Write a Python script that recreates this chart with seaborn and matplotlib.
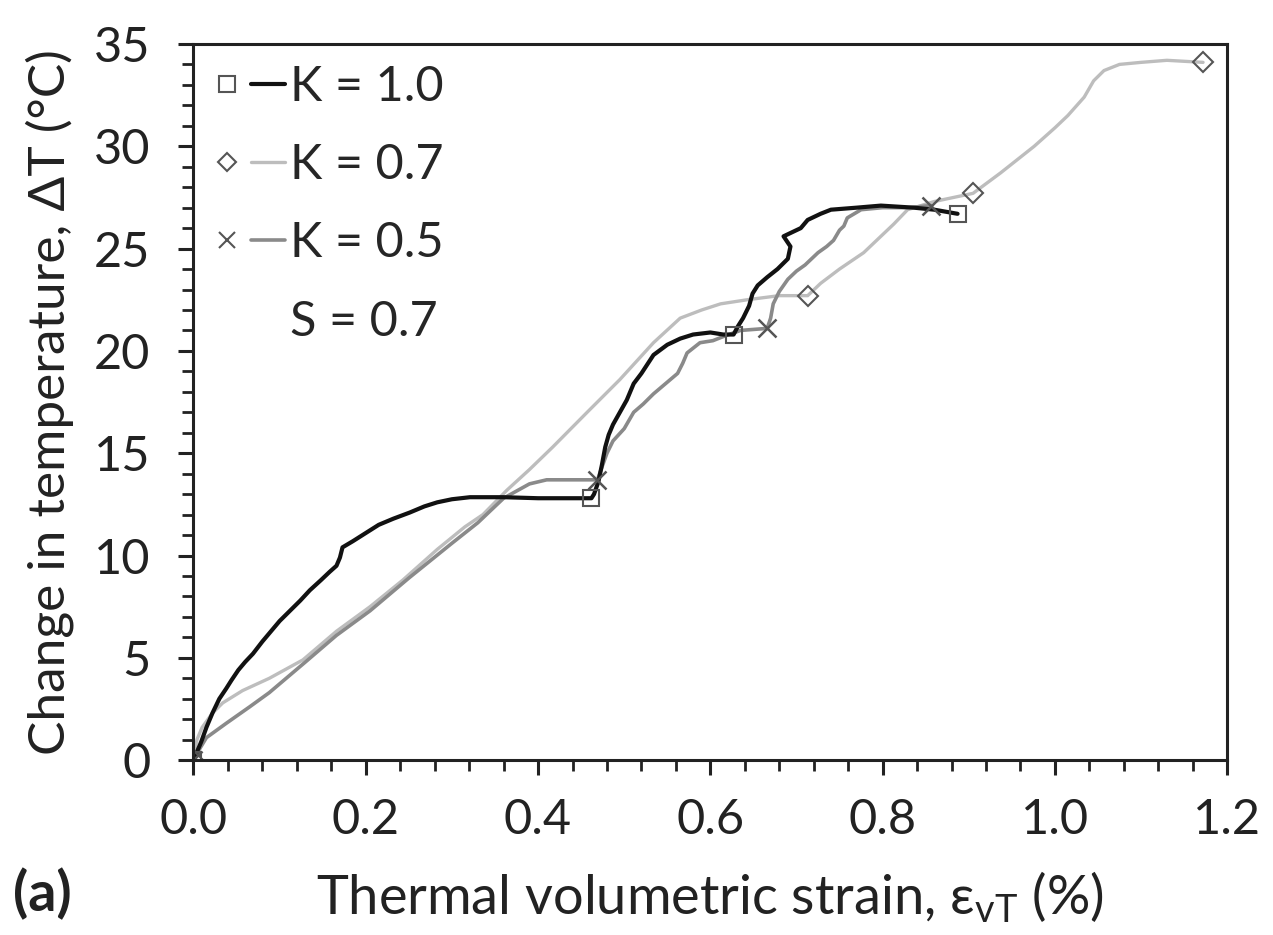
import numpy as np
import pandas as pd
import seaborn as sns
import matplotlib.pyplot as plt
from matplotlib.lines import Line2D
from matplotlib.legend_handler import HandlerTuple
from matplotlib.ticker import MultipleLocator

# K = 1.0 (black)
k10_x = [0, 0.004, 0.009, 0.015, 0.022, 0.03, 0.038, 0.044, 0.052, 0.06,
         0.069, 0.08, 0.09, 0.1, 0.112, 0.124, 0.135, 0.148, 0.158, 0.166,
         0.170, 0.173, 0.185, 0.2, 0.215, 0.232, 0.251, 0.268, 0.283, 0.3,
         0.321, 0.36, 0.4, 0.44, 0.462, 0.465, 0.47, 0.474, 0.478, 0.482,
         0.487, 0.495, 0.503, 0.511, 0.52, 0.534, 0.55, 0.565, 0.58, 0.6,
         0.615, 0.627, 0.632, 0.638, 0.645, 0.649, 0.655, 0.666, 0.678, 0.69,
         0.693, 0.685, 0.695, 0.705, 0.713, 0.728, 0.74, 0.77, 0.798, 0.836,
         0.86, 0.887]
k10_y = [0, 0.4, 0.9, 1.6, 2.3, 3.0, 3.5, 3.9, 4.4, 4.8,
         5.2, 5.8, 6.3, 6.8, 7.3, 7.8, 8.3, 8.8, 9.2, 9.5,
         9.9, 10.4, 10.7, 11.1, 11.5, 11.8, 12.1, 12.4, 12.6, 12.75,
         12.85, 12.85, 12.8, 12.8, 12.8, 13.0, 13.6, 14.4, 15.3, 15.9,
         16.4, 17.0, 17.6, 18.4, 18.9, 19.8, 20.3, 20.6, 20.8, 20.9,
         20.8, 20.8, 21.2, 21.6, 22.2, 22.8, 23.2, 23.6, 24.0, 24.5,
         25.1, 25.6, 25.8, 26.0, 26.4, 26.7, 26.9, 27.0, 27.1, 27.0,
         26.9, 26.7]

# K = 0.7 (light grey)
k07_x = [0, 0.004, 0.01, 0.022, 0.034, 0.057, 0.088, 0.127, 0.166, 0.205,
         0.243, 0.283, 0.315, 0.336, 0.364, 0.39, 0.417, 0.457, 0.495, 0.534,
         0.565, 0.59, 0.612, 0.643, 0.68, 0.713, 0.728, 0.75, 0.778, 0.813,
         0.829, 0.86, 0.905, 0.937, 0.976, 1.0, 1.015, 1.034, 1.045, 1.057,
         1.075, 1.1, 1.13, 1.172]
k07_y = [0, 1.0, 1.6, 2.3, 2.8, 3.4, 4.0, 4.9, 6.3, 7.5,
         8.8, 10.3, 11.4, 12.0, 13.2, 14.2, 15.3, 17.0, 18.6, 20.4,
         21.6, 22.0, 22.3, 22.5, 22.7, 22.7, 23.3, 24.0, 24.8, 26.2,
         26.9, 27.3, 27.7, 28.7, 30.0, 30.9, 31.5, 32.4, 33.2, 33.7,
         34.0, 34.1, 34.2, 34.1]

# K = 0.5 (mid grey)
k05_x = [0, 0.005, 0.015, 0.038, 0.065, 0.088, 0.13, 0.166, 0.205, 0.25,
         0.3, 0.33, 0.36, 0.39, 0.41, 0.44, 0.469, 0.474, 0.48, 0.487,
         0.5, 0.511, 0.522, 0.534, 0.548, 0.562, 0.568, 0.573, 0.588, 0.603,
         0.615, 0.635, 0.666, 0.67, 0.673, 0.68, 0.69, 0.70, 0.71, 0.725,
         0.735, 0.743, 0.75, 0.755, 0.759, 0.775, 0.8, 0.83, 0.856]
k05_y = [0, 0.4, 1.1, 1.8, 2.6, 3.3, 4.8, 6.1, 7.3, 8.9,
         10.6, 11.6, 12.8, 13.5, 13.7, 13.7, 13.7, 14.3, 15.0, 15.6,
         16.2, 17.0, 17.4, 17.9, 18.4, 18.9, 19.4, 19.9, 20.4, 20.5,
         20.7, 21.0, 21.1, 21.6, 22.3, 22.9, 23.5, 23.9, 24.2, 24.8,
         25.1, 25.4, 25.9, 26.1, 26.5, 26.9, 27.0, 27.0, 27.1]

# stage markers
k10_mx = [0, 0.462, 0.627, 0.887]
k10_my = [0, 12.8, 20.8, 26.7]
k07_mx = [0, 0.713, 0.905, 1.172]
k07_my = [0, 22.7, 27.7, 34.1]
k05_mx = [0, 0.469, 0.666, 0.856]
k05_my = [0, 13.7, 21.1, 27.1]

sns.set_theme(style='ticks')
plt.rcParams['font.family'] = ['Lato', 'DejaVu Sans']
plt.rcParams['mathtext.default'] = 'regular'

fig = plt.figure(figsize=(12.73, 9.35), dpi=100)
ax = fig.add_axes([0.152, 0.187, 0.812, 0.766])

c10, c07, c05 = '#111111', '#bdbdbd', '#8a8a8a'
mec = '#555555'
txt = '#222222'

sns.lineplot(x=k07_x, y=k07_y, sort=False, estimator=None, color=c07, lw=2.4, ax=ax)
sns.lineplot(x=k05_x, y=k05_y, sort=False, estimator=None, color=c05, lw=2.6, ax=ax)
sns.lineplot(x=k10_x, y=k10_y, sort=False, estimator=None, color=c10, lw=3.0, ax=ax)

ax.plot(k10_mx, k10_my, ls='none', marker='s', ms=12, mfc='none', mec=mec, mew=1.5)
ax.plot(k07_mx, k07_my, ls='none', marker='D', ms=10, mfc='none', mec=mec, mew=1.5)
ax.plot(k05_mx, k05_my, ls='none', marker='x', ms=13, mec=mec, mew=1.8)

ax.set_xlim(0, 1.2)
ax.set_ylim(0, 35)
ax.xaxis.set_major_locator(MultipleLocator(0.2))
ax.xaxis.set_minor_locator(MultipleLocator(0.04))
ax.yaxis.set_major_locator(MultipleLocator(5))
ax.yaxis.set_minor_locator(MultipleLocator(1))
ax.set_xticklabels([f'{v:.1f}' for v in ax.get_xticks()])

ax.tick_params(which='major', direction='out', length=11, width=2.2,
               labelsize=35, color=txt, labelcolor=txt)
ax.tick_params(axis='x', which='major', pad=16)
ax.tick_params(axis='y', which='major', pad=20)
ax.tick_params(which='minor', direction='out', length=8, width=2.0, color=txt)
for s in ax.spines.values():
    s.set_linewidth(2.2)
    s.set_color(txt)

ax.set_xlabel('Thermal volumetric strain, ε$_{vT}$ (%)', fontsize=39,
              color=txt, labelpad=20)
ax.set_ylabel('Change in temperature, ΔT (°C)', fontsize=37,
              color=txt, labelpad=14)

def pair(marker, ms, color, lw):
    m = Line2D([], [], ls='none', marker=marker, ms=ms, mfc='none', mec=mec, mew=1.5)
    l = Line2D([], [], color=color, lw=lw)
    return (m, l)

handles = [pair('s', 11, c10, 3.0), pair('D', 9, c07, 2.4),
           pair('x', 12, c05, 2.6), Line2D([], [], ls='none')]
labels = ['K = 1.0', 'K = 0.7', 'K = 0.5', 'S = 0.7']
ax.legend(handles, labels, loc='upper left', frameon=False, fontsize=35,
          handler_map={tuple: HandlerTuple(ndivide=None, pad=0.15)},
          handlelength=1.55, handletextpad=0.1, labelspacing=0.7,
          borderpad=0, borderaxespad=0, bbox_to_anchor=(0.016, 0.97))

fig.text(0.01, 0.025, '(a)', fontsize=40, fontweight='bold', color=txt)

fig.savefig('out.png', dpi=100)
